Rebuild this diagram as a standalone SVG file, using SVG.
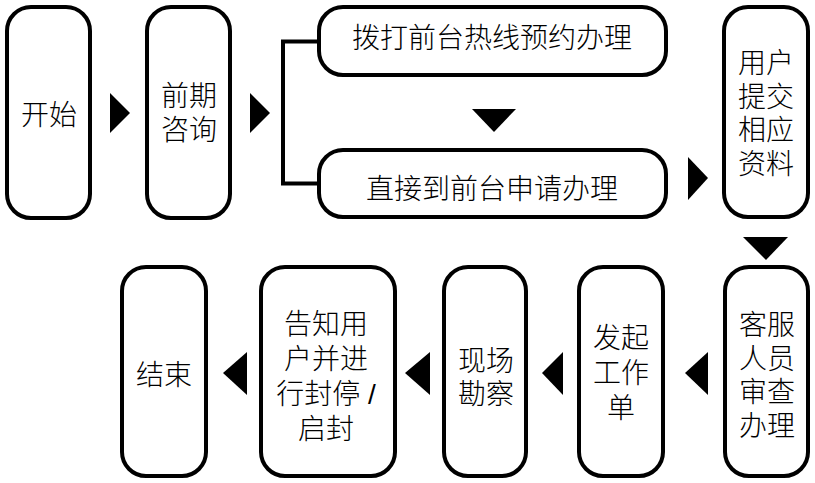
<svg xmlns="http://www.w3.org/2000/svg" width="815" height="483" viewBox="0 0 815 483">
<style>
.box{fill:#fff;stroke:#000;stroke-width:4}
.t{font-family:"Liberation Sans","Noto Sans CJK SC",sans-serif;font-size:28px;font-weight:300;fill:#000;text-anchor:middle}
.ln{fill:none;stroke:#000;stroke-width:4}
.ah{fill:#000}
</style>
<rect width="815" height="483" fill="#fff"/>
<g id="n-start"><rect class="box" x="7" y="7" width="83" height="211" rx="24"/><text class="t" x="49" y="125">开始</text></g>
<g id="n-consult"><rect class="box" x="147" y="7" width="83" height="211" rx="24"/><text class="t" x="189" y="106">前期<tspan x="189" dy="34">咨询</tspan></text></g>
<g id="n-hotline"><rect class="box" x="319" y="7" width="347" height="68" rx="24"/><text class="t" x="492" y="48">拨打前台热线预约办理</text></g>
<g id="n-direct"><rect class="box" x="319" y="150" width="347" height="67" rx="24"/><text class="t" x="492" y="199">直接到前台申请办理</text></g>
<g id="n-submit"><rect class="box" x="724" y="7" width="84" height="210" rx="24"/><text class="t" x="766" y="73">用户<tspan x="766" dy="33.7">提交</tspan><tspan x="766" dy="33.7">相应</tspan><tspan x="766" dy="33.7">资料</tspan></text></g>
<g id="n-review"><rect class="box" x="725" y="267" width="83" height="209" rx="24"/><text class="t" x="767" y="335">客服<tspan x="767" dy="33.7">人员</tspan><tspan x="767" dy="33.7">审查</tspan><tspan x="767" dy="33.7">办理</tspan></text></g>
<g id="n-order"><rect class="box" x="579" y="267" width="84" height="209" rx="24"/><text class="t" x="621" y="348">发起<tspan x="621" dy="35">工作</tspan><tspan x="621" dy="35">单</tspan></text></g>
<g id="n-survey"><rect class="box" x="444" y="267" width="82" height="209" rx="24"/><text class="t" x="486" y="371">现场<tspan x="486" dy="33">勘察</tspan></text></g>
<g id="n-notify"><rect class="box" x="261" y="267" width="134" height="209" rx="24"/><text class="t" x="326" y="334">告知用<tspan x="326" dy="35">户并进</tspan><tspan x="326" dy="35">行封停 /</tspan><tspan x="326" dy="35">启封</tspan></text></g>
<g id="n-end"><rect class="box" x="122" y="267" width="84" height="209" rx="24"/><text class="t" x="164" y="385">结束</text></g>
<g id="connectors">
<polyline class="ln" points="319,41.5 283,41.5 283,183.5 319,183.5"/>
<polygon class="ah" points="110,93 130,113 110,133"/>
<polygon class="ah" points="250,93 270,113 250,133"/>
<polygon class="ah" points="472,109 516,109 494,132"/>
<polygon class="ah" points="688,157 708,178 688,200"/>
<polygon class="ah" points="743,237 788,237 766,260"/>
<polygon class="ah" points="685,373 708,352 708,395"/>
<polygon class="ah" points="542,373 563,352 563,395"/>
<polygon class="ah" points="405,373 430,352 430,395"/>
<polygon class="ah" points="223,373 247,352 247,395"/>
</g>
</svg>
